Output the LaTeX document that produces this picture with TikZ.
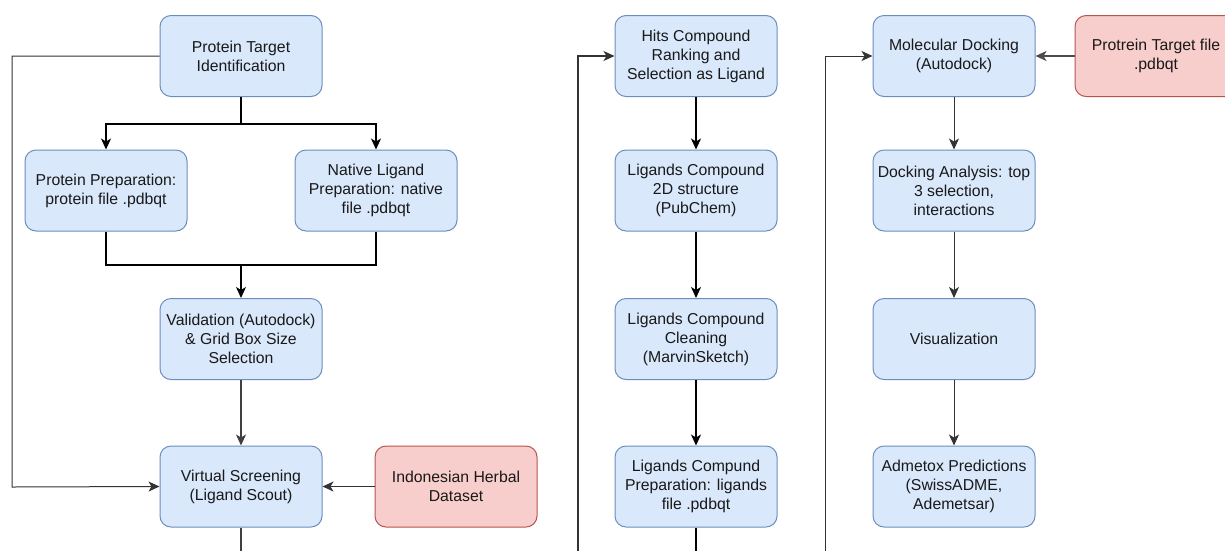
\documentclass[tikz,border=0pt]{standalone}
\usepackage{fontspec}
\setmainfont{Liberation Sans}
\usetikzlibrary{arrows.meta}
\definecolor{bfill}{HTML}{DAE8FC}
\definecolor{bdraw}{HTML}{6C8EBF}
\definecolor{rfill}{HTML}{F8CECC}
\definecolor{rdraw}{HTML}{B85450}
\definecolor{lgray}{HTML}{333333}
\tikzset{
  box/.style={draw=bdraw, fill=bfill, line width=1pt, rounded corners=11pt,
    minimum width=162pt, minimum height=81pt, inner sep=2pt, align=center,
    font=\fontsize{15.8}{19}\selectfont, text=black!90},
  rbox/.style={box, draw=rdraw, fill=rfill},
  thk/.style={draw=black, line width=1.4pt},
  thn/.style={draw=lgray, line width=1pt},
  arr/.style={-{Stealth[length=11pt,width=10pt,inset=3pt]}},
}
\begin{document}
\begin{tikzpicture}[x=1pt,y=-1pt]
\useasboundingbox (0,0) rectangle (1225,550);
\clip (0,0) rectangle (1225,550);
% column 1
\node[box] (pti) at (241,56) {Protein Target\\Identification};
\node[box] (pp) at (106,190.5) {Protein Preparation:\\protein file .pdbqt};
\node[box] (nl) at (376,190.5) {Native Ligand\\Preparation: native\\file .pdbqt};
\node[box] (val) at (241,339) {Validation (Autodock)\\\& Grid Box Size\\Selection};
\node[box] (vs) at (241,486.5) {Virtual Screening\\(Ligand Scout)};
\node[rbox] (ihd) at (456,486.5) {Indonesian Herbal\\Dataset};
% column 2
\node[box] (hits) at (696,56) {Hits Compound\\Ranking and\\Selection as Ligand};
\node[box] (l2d) at (696,190.5) {Ligands Compound\\2D structure\\(PubChem)};
\node[box] (lcc) at (696,339) {Ligands Compound\\Cleaning\\(MarvinSketch)};
\node[box] (lcp) at (696,486.5) {Ligands Compund\\Preparation: ligands\\file .pdbqt};
% column 3
\node[box] (md) at (954,56) {Molecular Docking\\(Autodock)};
\node[rbox] (ptf) at (1156,56) {Protrein Target file\\.pdbqt};
\node[box] (da) at (954,190.5) {Docking Analysis: top\\3 selection,\\interactions};
\node[box] (vis) at (954,339) {Visualization};
\node[box] (adm) at (954,486.5) {Admetox Predictions\\(SwissADME,\\Ademetsar)};
% free ends
\coordinate (c1) at (12,56);
\coordinate (c2) at (12,487);
\coordinate (j1) at (241,124);
\coordinate (j2) at (241,265);
\coordinate (vsout) at (241,560);
\coordinate (h1) at (578,560);
\coordinate (h2) at (578,56);
\coordinate (lcpout) at (696,560);
\coordinate (m1) at (825,560);
\coordinate (m2) at (825,56);
% connectors column 1
\draw[thn,arr] (pti.west) -- (c1) -- (c2) -- (vs.west);
\draw[thk] (pti.south) -- (j1);
\draw[thk,arr] (j1) -| (pp.north);
\draw[thk,arr] (j1) -| (nl.north);
\draw[thk] (pp.south) |- (j2);
\draw[thk] (nl.south) |- (j2);
\draw[thk,arr] (j2) -- (val.north);
\draw[thk,draw=black!75,arr] (val.south) -- (vs.north);
\draw[thk,draw=black!80,arr] (ihd.west) -- (vs.east);
\draw[thk,draw=black!75] (vs.south) -- (vsout);
% column 2
\draw[thn,draw=black!80,line width=1.2pt,arr] (h1) -- (h2) -- (hits.west);
\draw[thk,arr] (hits.south) -- (l2d.north);
\draw[thk,arr] (l2d.south) -- (lcc.north);
\draw[thk,arr] (lcc.south) -- (lcp.north);
\draw[thk] (lcp.south) -- (lcpout);
% column 3
\draw[thn,arr] (m1) -- (m2) -- (md.west);
\draw[thn,draw=black!70,line width=1.2pt,arr] (ptf.west) -- (md.east);
\draw[thn,arr] (md.south) -- (da.north);
\draw[thn,arr] (da.south) -- (vis.north);
\draw[thn,arr] (vis.south) -- (adm.north);
\end{tikzpicture}
\end{document}
